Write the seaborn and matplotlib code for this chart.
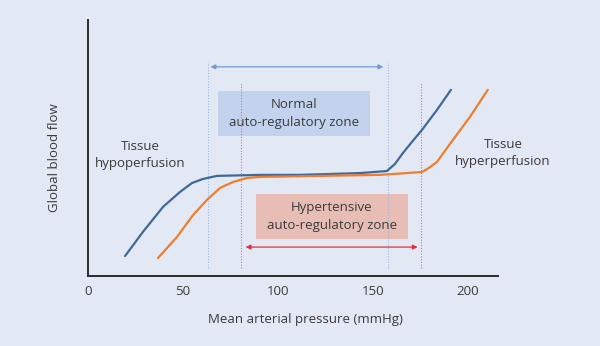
import matplotlib
matplotlib.use("Agg")
import matplotlib.pyplot as plt
import seaborn as sns
import pandas as pd
from matplotlib.patches import Rectangle

# Autoregulation curves: mean arterial pressure (mmHg) vs. relative global blood flow
normal_map = [19.5, 28.9, 39.5, 48.4, 54.7, 60.5, 67.9, 90.5, 111.6, 143.2, 157.4,
              161.6, 165.8, 170.5, 175.8, 183.7, 191.1]
normal_flow = [7.8, 17.2, 27.0, 32.8, 36.3, 37.9, 39.1, 39.5, 39.5, 40.2, 41.0,
               43.75, 48.0, 52.3, 57.0, 64.8, 72.7]

hyper_map = [36.8, 46.8, 55.3, 62.6, 69.5, 76.3, 83.7, 90.5, 153.7, 175.8,
             179.5, 183.7, 192.1, 201.1, 210.5]
hyper_flow = [7.0, 15.2, 23.8, 29.7, 34.4, 36.7, 38.3, 38.7, 39.5, 40.6,
              42.2, 44.5, 53.1, 62.1, 72.7]

# Limits of each autoregulatory range (mmHg)
normal_limits = [63, 158]
hyper_limits = [80.5, 175.6]

x_ticks = [0, 50, 100, 150, 200]

BG = "#e3e8f5"
BLUE = "#3f6a98"
ORANGE = "#f07d2c"
TEXT = "#3a3a3a"

sns.set_theme(style="white")
plt.rcParams["font.family"] = ["Open Sans", "DejaVu Sans"]

fig = plt.figure(figsize=(6.0, 3.46), dpi=100, facecolor=BG)
ax = fig.add_axes([0.1467, 0.2023, 0.683, 0.740])
ax.set_facecolor(BG)

df_n = pd.DataFrame({"map": normal_map, "flow": normal_flow})
df_h = pd.DataFrame({"map": hyper_map, "flow": hyper_flow})
sns.lineplot(data=df_n, x="map", y="flow", ax=ax, color=BLUE, lw=1.6, zorder=4,
             solid_joinstyle="round", solid_capstyle="round")
sns.lineplot(data=df_h, x="map", y="flow", ax=ax, color=ORANGE, lw=1.6, zorder=4,
             solid_joinstyle="round", solid_capstyle="round")

ax.set_xlim(0, 215.8)
ax.set_ylim(0, 100)

# Dotted limit lines
for x in normal_limits:
    ax.plot([x, x], [3, 83.5], ls=(0, (1, 1.5)), color="#9bb8e0", lw=0.8, zorder=2)
for x in hyper_limits:
    ax.plot([x, x], [3, 75.4], ls=(0, (1, 1.5)), color="#e0707a", lw=0.8, zorder=2)

# Range arrows
ax.annotate("", xy=(normal_limits[0] + 1.5, 81.7), xytext=(normal_limits[1] - 2.5, 81.7),
            arrowprops=dict(arrowstyle="<|-|>", color="#6f9bd4", lw=0.9,
                            mutation_scale=7, shrinkA=0, shrinkB=0))
ax.annotate("", xy=(hyper_limits[0] + 2.5, 11.3), xytext=(hyper_limits[1] - 2.0, 11.3),
            arrowprops=dict(arrowstyle="<|-|>", color="#e0303c", lw=0.9,
                            mutation_scale=7, shrinkA=0, shrinkB=0))

# Zone boxes
ax.add_patch(Rectangle((68.4, 54.7), 80.0, 17.6, facecolor="#c4d3ed", edgecolor="none", zorder=1))
ax.text(108.4, 63.5, "Normal\nauto-regulatory zone", ha="center", va="center",
        fontsize=9.5, color=TEXT, linespacing=1.45, zorder=5)
ax.add_patch(Rectangle((88.4, 14.4), 80.0, 17.6, facecolor="#e8bdb6", edgecolor="none", zorder=1))
ax.text(128.4, 23.2, "Hypertensive\nauto-regulatory zone", ha="center", va="center",
        fontsize=9.5, color=TEXT, linespacing=1.45, zorder=5)

# Region labels
ax.text(27.4, 47.3, "Tissue\nhypoperfusion", ha="center", va="center",
        fontsize=9.5, color=TEXT, linespacing=1.45)
fig.text(503 / 600, 1 - 153 / 346, "Tissue\nhyperperfusion", ha="center", va="center",
         fontsize=9.5, color=TEXT, linespacing=1.45)

# Axes styling
sns.despine(ax=ax)
for s in ["left", "bottom"]:
    ax.spines[s].set_color("#2b2b2b")
    ax.spines[s].set_linewidth(1.4)
ax.set_xticks(x_ticks)
ax.set_xticklabels([str(t) for t in x_ticks])
ax.set_yticks([])
ax.tick_params(axis="x", length=0, pad=6.5, labelsize=9.5, labelcolor=TEXT)
ax.set_xlabel("")
ax.set_ylabel("")
fig.text(305 / 600, 1 - 320 / 346, "Mean arterial pressure (mmHg)", ha="center", va="center",
         fontsize=9.5, color=TEXT)
fig.text(54 / 600, 1 - 158 / 346, "Global blood flow", ha="center", va="center",
         rotation=90, fontsize=9.5, color=TEXT)

fig.savefig("out.png", dpi=100, facecolor=BG)
